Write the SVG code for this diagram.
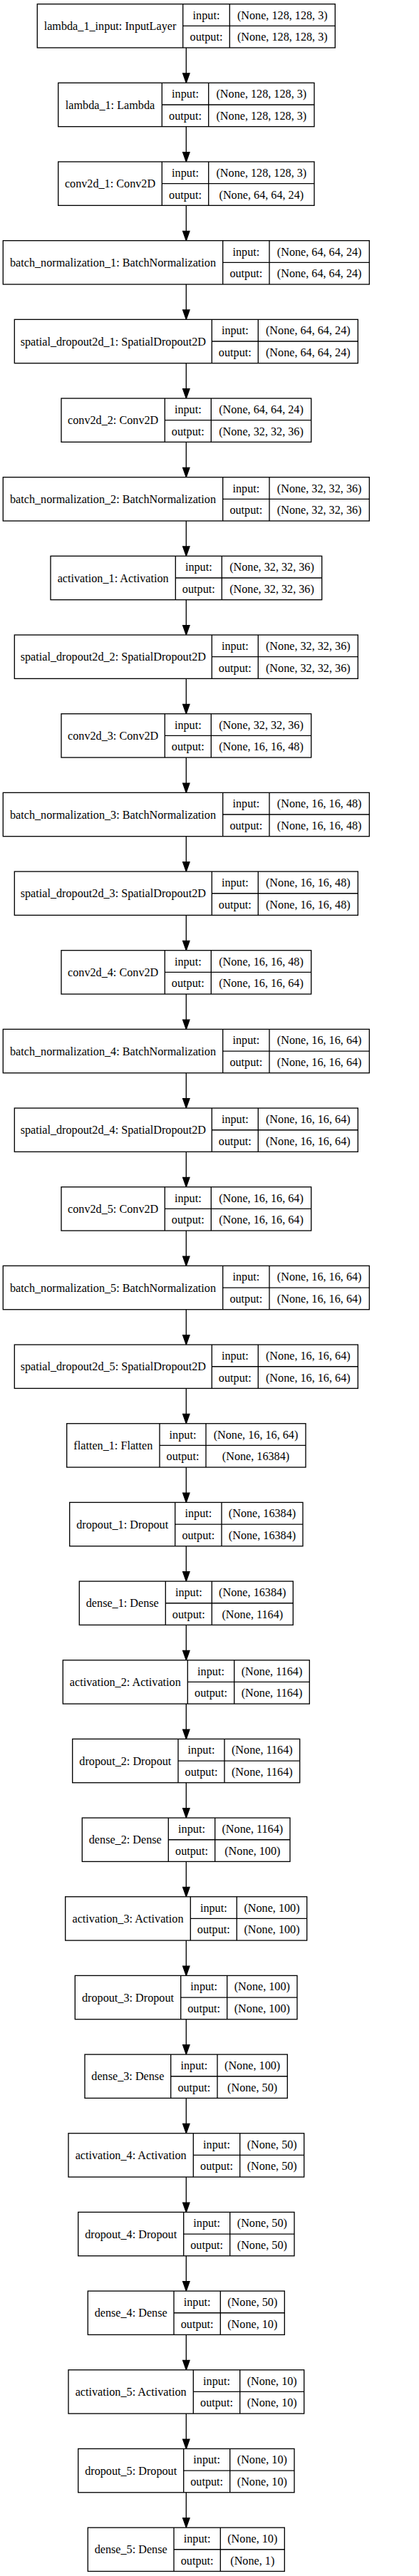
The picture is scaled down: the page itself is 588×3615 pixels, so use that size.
<svg xmlns="http://www.w3.org/2000/svg" width="588" height="3615" viewBox="0 0 588 3615">
<style>
rect{fill:#fff;stroke:#000;stroke-width:1.33}
.sep{fill:none;stroke:#000;stroke-width:1.33}
.edge{fill:none;stroke:#000;stroke-width:1.33;marker-end:url(#arr)}
text{font-family:"Liberation Serif","Times New Roman",serif;font-size:16.2px;text-anchor:middle;fill:#000}
</style>
<defs>
<marker id="arr" markerUnits="userSpaceOnUse" markerWidth="14" markerHeight="10" refX="0" refY="4.67" orient="auto" overflow="visible">
<path d="M0,0L13.33,4.67L0,9.33z" fill="#000" stroke="#000" stroke-width="1.33"/>
</marker>
</defs>
<rect x="0" y="0" width="588" height="3615" style="stroke:none;fill:#fff"/>
<g id="connectors">
<path class="edge" d="M261.3,67V103.01"/>
<path class="edge" d="M261.3,177.67V213.68"/>
<path class="edge" d="M261.3,288.34V324.35"/>
<path class="edge" d="M261.3,399.01V435.02"/>
<path class="edge" d="M261.3,509.68V545.69"/>
<path class="edge" d="M261.3,620.35V656.36"/>
<path class="edge" d="M261.3,731.02V767.03"/>
<path class="edge" d="M261.3,841.69V877.7"/>
<path class="edge" d="M261.3,952.36V988.37"/>
<path class="edge" d="M261.3,1063.03V1099.04"/>
<path class="edge" d="M261.3,1173.7V1209.71"/>
<path class="edge" d="M261.3,1284.37V1320.38"/>
<path class="edge" d="M261.3,1395.04V1431.05"/>
<path class="edge" d="M261.3,1505.71V1541.72"/>
<path class="edge" d="M261.3,1616.38V1652.39"/>
<path class="edge" d="M261.3,1727.05V1763.06"/>
<path class="edge" d="M261.3,1837.72V1873.73"/>
<path class="edge" d="M261.3,1948.39V1984.4"/>
<path class="edge" d="M261.3,2059.06V2095.07"/>
<path class="edge" d="M261.3,2169.73V2205.74"/>
<path class="edge" d="M261.3,2280.4V2316.41"/>
<path class="edge" d="M261.3,2391.07V2427.08"/>
<path class="edge" d="M261.3,2501.74V2537.75"/>
<path class="edge" d="M261.3,2612.41V2648.42"/>
<path class="edge" d="M261.3,2723.08V2759.09"/>
<path class="edge" d="M261.3,2833.75V2869.76"/>
<path class="edge" d="M261.3,2944.42V2980.43"/>
<path class="edge" d="M261.3,3055.09V3091.1"/>
<path class="edge" d="M261.3,3165.76V3201.77"/>
<path class="edge" d="M261.3,3276.43V3312.44"/>
<path class="edge" d="M261.3,3387.1V3423.11"/>
<path class="edge" d="M261.3,3497.77V3533.78"/>
</g>

<g id="lambda_1_input" transform="translate(0,5.67)">
<rect x="52.3" y="0" width="418" height="61.33"/>
<path class="sep" d="M256.7,0V61.33M322.3,0V61.33M256.7,30.67H470.3"/>
<text x="154.5" y="36.3">lambda_1_input: InputLayer</text>
<text x="289.5" y="21">input:</text><text x="289.5" y="51.7">output:</text>
<text x="396.3" y="21">(None, 128, 128, 3)</text><text x="396.3" y="51.7">(None, 128, 128, 3)</text>
</g>

<g id="lambda_1" transform="translate(0,116.34)">
<rect x="81.7" y="0" width="359.3" height="61.33"/>
<path class="sep" d="M227.3,0V61.33M292.7,0V61.33M227.3,30.67H441"/>
<text x="154.5" y="36.3">lambda_1: Lambda</text>
<text x="260" y="21">input:</text><text x="260" y="51.7">output:</text>
<text x="366.85" y="21">(None, 128, 128, 3)</text><text x="366.85" y="51.7">(None, 128, 128, 3)</text>
</g>

<g id="conv2d_1" transform="translate(0,227.01)">
<rect x="81.7" y="0" width="359.3" height="61.33"/>
<path class="sep" d="M227.3,0V61.33M292.7,0V61.33M227.3,30.67H441"/>
<text x="154.5" y="36.3">conv2d_1: Conv2D</text>
<text x="260" y="21">input:</text><text x="260" y="51.7">output:</text>
<text x="366.85" y="21">(None, 128, 128, 3)</text><text x="366.85" y="51.7">(None, 64, 64, 24)</text>
</g>

<g id="batch_normalization_1" transform="translate(0,337.68)">
<rect x="4.3" y="0" width="514" height="61.33"/>
<path class="sep" d="M312.7,0V61.33M378,0V61.33M312.7,30.67H518.3"/>
<text x="158.5" y="36.3">batch_normalization_1: BatchNormalization</text>
<text x="345.35" y="21">input:</text><text x="345.35" y="51.7">output:</text>
<text x="448.15" y="21">(None, 64, 64, 24)</text><text x="448.15" y="51.7">(None, 64, 64, 24)</text>
</g>

<g id="spatial_dropout2d_1" transform="translate(0,448.35)">
<rect x="20.3" y="0" width="482" height="61.33"/>
<path class="sep" d="M297.3,0V61.33M362.3,0V61.33M297.3,30.67H502.3"/>
<text x="158.8" y="36.3">spatial_dropout2d_1: SpatialDropout2D</text>
<text x="329.8" y="21">input:</text><text x="329.8" y="51.7">output:</text>
<text x="432.3" y="21">(None, 64, 64, 24)</text><text x="432.3" y="51.7">(None, 64, 64, 24)</text>
</g>

<g id="conv2d_2" transform="translate(0,559.02)">
<rect x="86" y="0" width="350.7" height="61.33"/>
<path class="sep" d="M231.3,0V61.33M296.3,0V61.33M231.3,30.67H436.7"/>
<text x="158.65" y="36.3">conv2d_2: Conv2D</text>
<text x="263.8" y="21">input:</text><text x="263.8" y="51.7">output:</text>
<text x="366.5" y="21">(None, 64, 64, 24)</text><text x="366.5" y="51.7">(None, 32, 32, 36)</text>
</g>

<g id="batch_normalization_2" transform="translate(0,669.69)">
<rect x="4.3" y="0" width="514" height="61.33"/>
<path class="sep" d="M312.7,0V61.33M378,0V61.33M312.7,30.67H518.3"/>
<text x="158.5" y="36.3">batch_normalization_2: BatchNormalization</text>
<text x="345.35" y="21">input:</text><text x="345.35" y="51.7">output:</text>
<text x="448.15" y="21">(None, 32, 32, 36)</text><text x="448.15" y="51.7">(None, 32, 32, 36)</text>
</g>

<g id="activation_1" transform="translate(0,780.36)">
<rect x="71" y="0" width="380.7" height="61.33"/>
<path class="sep" d="M246.3,0V61.33M311.3,0V61.33M246.3,30.67H451.7"/>
<text x="158.65" y="36.3">activation_1: Activation</text>
<text x="278.8" y="21">input:</text><text x="278.8" y="51.7">output:</text>
<text x="381.5" y="21">(None, 32, 32, 36)</text><text x="381.5" y="51.7">(None, 32, 32, 36)</text>
</g>

<g id="spatial_dropout2d_2" transform="translate(0,891.03)">
<rect x="20.3" y="0" width="482" height="61.33"/>
<path class="sep" d="M297.3,0V61.33M362.3,0V61.33M297.3,30.67H502.3"/>
<text x="158.8" y="36.3">spatial_dropout2d_2: SpatialDropout2D</text>
<text x="329.8" y="21">input:</text><text x="329.8" y="51.7">output:</text>
<text x="432.3" y="21">(None, 32, 32, 36)</text><text x="432.3" y="51.7">(None, 32, 32, 36)</text>
</g>

<g id="conv2d_3" transform="translate(0,1001.7)">
<rect x="86" y="0" width="350.7" height="61.33"/>
<path class="sep" d="M231.3,0V61.33M296.3,0V61.33M231.3,30.67H436.7"/>
<text x="158.65" y="36.3">conv2d_3: Conv2D</text>
<text x="263.8" y="21">input:</text><text x="263.8" y="51.7">output:</text>
<text x="366.5" y="21">(None, 32, 32, 36)</text><text x="366.5" y="51.7">(None, 16, 16, 48)</text>
</g>

<g id="batch_normalization_3" transform="translate(0,1112.37)">
<rect x="4.3" y="0" width="514" height="61.33"/>
<path class="sep" d="M312.7,0V61.33M378,0V61.33M312.7,30.67H518.3"/>
<text x="158.5" y="36.3">batch_normalization_3: BatchNormalization</text>
<text x="345.35" y="21">input:</text><text x="345.35" y="51.7">output:</text>
<text x="448.15" y="21">(None, 16, 16, 48)</text><text x="448.15" y="51.7">(None, 16, 16, 48)</text>
</g>

<g id="spatial_dropout2d_3" transform="translate(0,1223.04)">
<rect x="20.3" y="0" width="482" height="61.33"/>
<path class="sep" d="M297.3,0V61.33M362.3,0V61.33M297.3,30.67H502.3"/>
<text x="158.8" y="36.3">spatial_dropout2d_3: SpatialDropout2D</text>
<text x="329.8" y="21">input:</text><text x="329.8" y="51.7">output:</text>
<text x="432.3" y="21">(None, 16, 16, 48)</text><text x="432.3" y="51.7">(None, 16, 16, 48)</text>
</g>

<g id="conv2d_4" transform="translate(0,1333.71)">
<rect x="86" y="0" width="350.7" height="61.33"/>
<path class="sep" d="M231.3,0V61.33M296.3,0V61.33M231.3,30.67H436.7"/>
<text x="158.65" y="36.3">conv2d_4: Conv2D</text>
<text x="263.8" y="21">input:</text><text x="263.8" y="51.7">output:</text>
<text x="366.5" y="21">(None, 16, 16, 48)</text><text x="366.5" y="51.7">(None, 16, 16, 64)</text>
</g>

<g id="batch_normalization_4" transform="translate(0,1444.38)">
<rect x="4.3" y="0" width="514" height="61.33"/>
<path class="sep" d="M312.7,0V61.33M378,0V61.33M312.7,30.67H518.3"/>
<text x="158.5" y="36.3">batch_normalization_4: BatchNormalization</text>
<text x="345.35" y="21">input:</text><text x="345.35" y="51.7">output:</text>
<text x="448.15" y="21">(None, 16, 16, 64)</text><text x="448.15" y="51.7">(None, 16, 16, 64)</text>
</g>

<g id="spatial_dropout2d_4" transform="translate(0,1555.05)">
<rect x="20.3" y="0" width="482" height="61.33"/>
<path class="sep" d="M297.3,0V61.33M362.3,0V61.33M297.3,30.67H502.3"/>
<text x="158.8" y="36.3">spatial_dropout2d_4: SpatialDropout2D</text>
<text x="329.8" y="21">input:</text><text x="329.8" y="51.7">output:</text>
<text x="432.3" y="21">(None, 16, 16, 64)</text><text x="432.3" y="51.7">(None, 16, 16, 64)</text>
</g>

<g id="conv2d_5" transform="translate(0,1665.72)">
<rect x="86" y="0" width="350.7" height="61.33"/>
<path class="sep" d="M231.3,0V61.33M296.3,0V61.33M231.3,30.67H436.7"/>
<text x="158.65" y="36.3">conv2d_5: Conv2D</text>
<text x="263.8" y="21">input:</text><text x="263.8" y="51.7">output:</text>
<text x="366.5" y="21">(None, 16, 16, 64)</text><text x="366.5" y="51.7">(None, 16, 16, 64)</text>
</g>

<g id="batch_normalization_5" transform="translate(0,1776.39)">
<rect x="4.3" y="0" width="514" height="61.33"/>
<path class="sep" d="M312.7,0V61.33M378,0V61.33M312.7,30.67H518.3"/>
<text x="158.5" y="36.3">batch_normalization_5: BatchNormalization</text>
<text x="345.35" y="21">input:</text><text x="345.35" y="51.7">output:</text>
<text x="448.15" y="21">(None, 16, 16, 64)</text><text x="448.15" y="51.7">(None, 16, 16, 64)</text>
</g>

<g id="spatial_dropout2d_5" transform="translate(0,1887.06)">
<rect x="20.3" y="0" width="482" height="61.33"/>
<path class="sep" d="M297.3,0V61.33M362.3,0V61.33M297.3,30.67H502.3"/>
<text x="158.8" y="36.3">spatial_dropout2d_5: SpatialDropout2D</text>
<text x="329.8" y="21">input:</text><text x="329.8" y="51.7">output:</text>
<text x="432.3" y="21">(None, 16, 16, 64)</text><text x="432.3" y="51.7">(None, 16, 16, 64)</text>
</g>

<g id="flatten_1" transform="translate(0,1997.73)">
<rect x="93.7" y="0" width="335.3" height="61.33"/>
<path class="sep" d="M224,0V61.33M289,0V61.33M224,30.67H429"/>
<text x="158.85" y="36.3">flatten_1: Flatten</text>
<text x="256.5" y="21">input:</text><text x="256.5" y="51.7">output:</text>
<text x="359" y="21">(None, 16, 16, 64)</text><text x="359" y="51.7">(None, 16384)</text>
</g>

<g id="dropout_1" transform="translate(0,2108.4)">
<rect x="97.7" y="0" width="327.3" height="61.33"/>
<path class="sep" d="M245.7,0V61.33M311,0V61.33M245.7,30.67H425"/>
<text x="171.7" y="36.3">dropout_1: Dropout</text>
<text x="278.35" y="21">input:</text><text x="278.35" y="51.7">output:</text>
<text x="368" y="21">(None, 16384)</text><text x="368" y="51.7">(None, 16384)</text>
</g>

<g id="dense_1" transform="translate(0,2219.07)">
<rect x="111.3" y="0" width="300" height="61.33"/>
<path class="sep" d="M232.3,0V61.33M297.3,0V61.33M232.3,30.67H411.3"/>
<text x="171.8" y="36.3">dense_1: Dense</text>
<text x="264.8" y="21">input:</text><text x="264.8" y="51.7">output:</text>
<text x="354.3" y="21">(None, 16384)</text><text x="354.3" y="51.7">(None, 1164)</text>
</g>

<g id="activation_2" transform="translate(0,2329.74)">
<rect x="88.3" y="0" width="346" height="61.33"/>
<path class="sep" d="M263.3,0V61.33M328.7,0V61.33M263.3,30.67H434.3"/>
<text x="175.8" y="36.3">activation_2: Activation</text>
<text x="296" y="21">input:</text><text x="296" y="51.7">output:</text>
<text x="381.5" y="21">(None, 1164)</text><text x="381.5" y="51.7">(None, 1164)</text>
</g>

<g id="dropout_2" transform="translate(0,2440.41)">
<rect x="101.7" y="0" width="319" height="61.33"/>
<path class="sep" d="M250,0V61.33M315,0V61.33M250,30.67H420.7"/>
<text x="175.85" y="36.3">dropout_2: Dropout</text>
<text x="282.5" y="21">input:</text><text x="282.5" y="51.7">output:</text>
<text x="367.85" y="21">(None, 1164)</text><text x="367.85" y="51.7">(None, 1164)</text>
</g>

<g id="dense_2" transform="translate(0,2551.08)">
<rect x="115.3" y="0" width="291.7" height="61.33"/>
<path class="sep" d="M236.3,0V61.33M301.7,0V61.33M236.3,30.67H407"/>
<text x="175.8" y="36.3">dense_2: Dense</text>
<text x="269" y="21">input:</text><text x="269" y="51.7">output:</text>
<text x="354.35" y="21">(None, 1164)</text><text x="354.35" y="51.7">(None, 100)</text>
</g>

<g id="activation_3" transform="translate(0,2661.75)">
<rect x="91.7" y="0" width="339" height="61.33"/>
<path class="sep" d="M267.3,0V61.33M332.3,0V61.33M267.3,30.67H430.7"/>
<text x="179.5" y="36.3">activation_3: Activation</text>
<text x="299.8" y="21">input:</text><text x="299.8" y="51.7">output:</text>
<text x="381.5" y="21">(None, 100)</text><text x="381.5" y="51.7">(None, 100)</text>
</g>

<g id="dropout_3" transform="translate(0,2772.42)">
<rect x="105.3" y="0" width="311.7" height="61.33"/>
<path class="sep" d="M253.7,0V61.33M318.7,0V61.33M253.7,30.67H417"/>
<text x="179.5" y="36.3">dropout_3: Dropout</text>
<text x="286.2" y="21">input:</text><text x="286.2" y="51.7">output:</text>
<text x="367.85" y="21">(None, 100)</text><text x="367.85" y="51.7">(None, 100)</text>
</g>

<g id="dense_3" transform="translate(0,2883.09)">
<rect x="119" y="0" width="284.3" height="61.33"/>
<path class="sep" d="M239.7,0V61.33M305,0V61.33M239.7,30.67H403.3"/>
<text x="179.35" y="36.3">dense_3: Dense</text>
<text x="272.35" y="21">input:</text><text x="272.35" y="51.7">output:</text>
<text x="354.15" y="21">(None, 100)</text><text x="354.15" y="51.7">(None, 50)</text>
</g>

<g id="activation_4" transform="translate(0,2993.76)">
<rect x="96" y="0" width="330.7" height="61.33"/>
<path class="sep" d="M271.3,0V61.33M336.7,0V61.33M271.3,30.67H426.7"/>
<text x="183.65" y="36.3">activation_4: Activation</text>
<text x="304" y="21">input:</text><text x="304" y="51.7">output:</text>
<text x="381.7" y="21">(None, 50)</text><text x="381.7" y="51.7">(None, 50)</text>
</g>

<g id="dropout_4" transform="translate(0,3104.43)">
<rect x="109.7" y="0" width="303.3" height="61.33"/>
<path class="sep" d="M257.7,0V61.33M322.7,0V61.33M257.7,30.67H413"/>
<text x="183.7" y="36.3">dropout_4: Dropout</text>
<text x="290.2" y="21">input:</text><text x="290.2" y="51.7">output:</text>
<text x="367.85" y="21">(None, 50)</text><text x="367.85" y="51.7">(None, 50)</text>
</g>

<g id="dense_4" transform="translate(0,3215.1)">
<rect x="123.3" y="0" width="276" height="61.33"/>
<path class="sep" d="M244,0V61.33M309.3,0V61.33M244,30.67H399.3"/>
<text x="183.65" y="36.3">dense_4: Dense</text>
<text x="276.65" y="21">input:</text><text x="276.65" y="51.7">output:</text>
<text x="354.3" y="21">(None, 50)</text><text x="354.3" y="51.7">(None, 10)</text>
</g>

<g id="activation_5" transform="translate(0,3325.77)">
<rect x="96" y="0" width="330.7" height="61.33"/>
<path class="sep" d="M271.3,0V61.33M336.7,0V61.33M271.3,30.67H426.7"/>
<text x="183.65" y="36.3">activation_5: Activation</text>
<text x="304" y="21">input:</text><text x="304" y="51.7">output:</text>
<text x="381.7" y="21">(None, 10)</text><text x="381.7" y="51.7">(None, 10)</text>
</g>

<g id="dropout_5" transform="translate(0,3436.44)">
<rect x="109.7" y="0" width="303.3" height="61.33"/>
<path class="sep" d="M257.7,0V61.33M322.7,0V61.33M257.7,30.67H413"/>
<text x="183.7" y="36.3">dropout_5: Dropout</text>
<text x="290.2" y="21">input:</text><text x="290.2" y="51.7">output:</text>
<text x="367.85" y="21">(None, 10)</text><text x="367.85" y="51.7">(None, 10)</text>
</g>

<g id="dense_5" transform="translate(0,3547.11)">
<rect x="123.3" y="0" width="276" height="61.33"/>
<path class="sep" d="M244,0V61.33M309.3,0V61.33M244,30.67H399.3"/>
<text x="183.65" y="36.3">dense_5: Dense</text>
<text x="276.65" y="21">input:</text><text x="276.65" y="51.7">output:</text>
<text x="354.3" y="21">(None, 10)</text><text x="354.3" y="51.7">(None, 1)</text>
</g>
</svg>
